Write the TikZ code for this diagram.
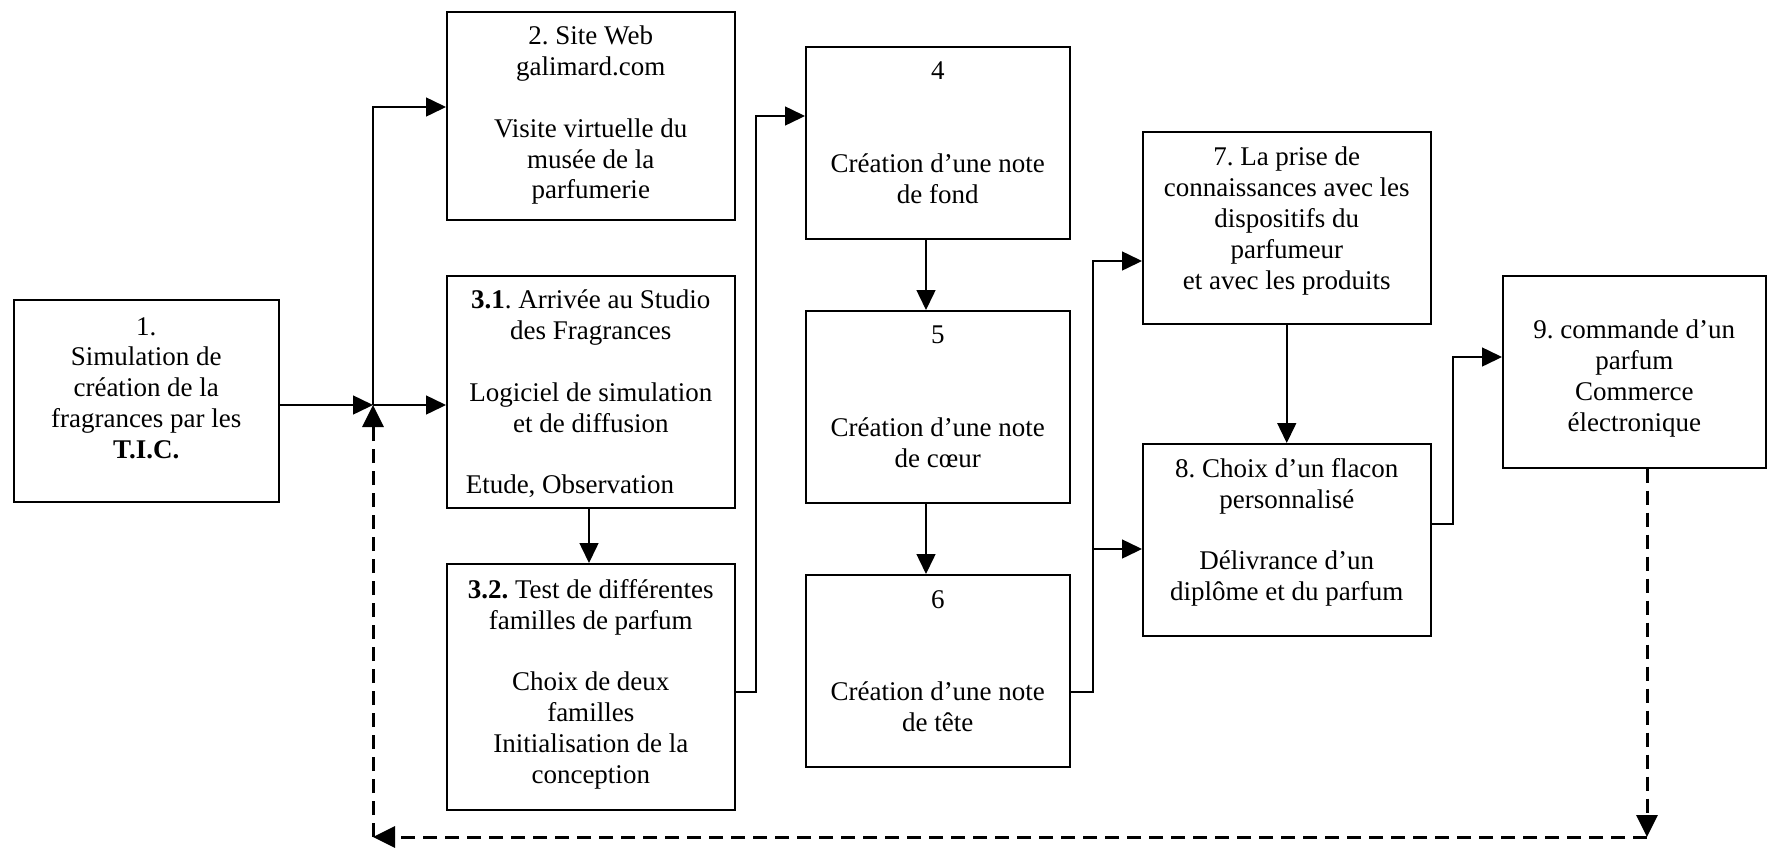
\documentclass[tikz,border=0pt]{standalone}
\usepackage{fontspec}
\setmainfont{Liberation Serif}
\usetikzlibrary{arrows.meta}
\frenchspacing
\begin{document}
\begin{tikzpicture}[x=1pt,y=-1pt,
  box/.style={draw, line width=1.5pt, inner sep=0pt, anchor=north west},
  txt/.style={anchor=north, inner sep=0pt, align=center, font=\fontsize{27}{30.8}\selectfont},
  conn/.style={line width=1.5pt, -{Triangle[length=20pt,width=19pt]}},
  back/.style={line width=3pt, dash pattern=on 14pt off 8pt, -{Triangle[length=22pt,width=21pt]}}]
\useasboundingbox (0,0) rectangle (1767,847);

% boxes
\node[box, minimum width=265pt, minimum height=202pt] (b1) at (13,299) {};
\node[box, minimum width=288pt, minimum height=208pt] (b2) at (446,11) {};
\node[box, minimum width=288pt, minimum height=232pt] (b31) at (446,275) {};
\node[box, minimum width=288pt, minimum height=246pt] (b32) at (446,563) {};
\node[box, minimum width=264pt, minimum height=192pt] (b4) at (805,46) {};
\node[box, minimum width=264pt, minimum height=192pt] (b5) at (805,310) {};
\node[box, minimum width=264pt, minimum height=192pt] (b6) at (805,574) {};
\node[box, minimum width=288pt, minimum height=192pt] (b7) at (1142,131) {};
\node[box, minimum width=288pt, minimum height=192pt] (b8) at (1142,443) {};
\node[box, minimum width=263pt, minimum height=192pt] (b9) at (1502,275) {};

% texts
\node[txt] (t1) at ([yshift=-18pt]b1.north) {1.\\Simulation de\\création de la\\fragrances par les\\\textbf{T.I.C.}};
\node[txt] (t2) at ([yshift=-15pt]b2.north) {2. Site Web\\galimard.com\\[30.8pt]Visite virtuelle du\\musée de la\\parfumerie};
\node[txt] (t31) at ([yshift=-15pt]b31.north) {\textbf{3.1}. Arrivée au Studio\\des Fragrances\\[30.8pt]Logiciel de simulation\\et de diffusion\\[30.8pt]\hbox to 250pt{Etude, Observation\hfil}};
\node[txt] (t32) at ([yshift=-16pt]b32.north) {\textbf{3.2.} Test de différentes\\familles de parfum\\[30.8pt]Choix de deux\\familles\\Initialisation de la\\conception};
\node[txt] (t4) at ([yshift=-16pt]b4.north) {4\\[61.6pt]Création d’une note\\de fond};
\node[txt] (t5) at ([yshift=-16pt]b5.north) {5\\[61.6pt]Création d’une note\\de cœur};
\node[txt] (t6) at ([yshift=-16pt]b6.north) {6\\[61.6pt]Création d’une note\\de tête};
\node[txt] (t7) at ([yshift=-16pt]b7.north) {7. La prise de\\connaissances avec les\\dispositifs du\\parfumeur\\et avec les produits};
\node[txt] (t8) at ([yshift=-15pt]b8.north) {8. Choix d’un flacon\\personnalisé\\[30.8pt]Délivrance d’un\\diplôme et du parfum};
\node[txt] (t9) at ([yshift=-45pt]b9.north) {9. commande d’un\\parfum\\Commerce\\électronique};

% connectors
\coordinate (j) at (373,405);
\coordinate (j2) at (373,107);
\draw[conn] (b1.east |- j) -- (j);
\draw[conn] (j) -- (j -| b31.west);
\draw[conn] (j) -- (j2) -- (j2 -| b2.west);

\coordinate (a31) at (589,0);
\draw[conn] (b31.south -| a31) -- (b32.north -| a31);

\coordinate (k1) at (756,692);
\coordinate (k2) at (756,116);
\draw[conn] (b32.east |- k1) -- (k1) -- (k2) -- (k2 -| b4.west);

\coordinate (v1) at (926,0);
\draw[conn] (b4.south -| v1) -- (b5.north -| v1);
\draw[conn] (b5.south -| v1) -- (b6.north -| v1);

\coordinate (m1) at (1093,692);
\coordinate (m2) at (1093,261);
\coordinate (m3) at (1093,549);
\draw[conn] (b6.east |- m1) -- (m1) -- (m2) -- (m2 -| b7.west);
\draw[conn] (m3) -- (m3 -| b8.west);

\draw[conn] (b7.south) -- (b8.north);

\coordinate (n1) at (1453,524);
\coordinate (n2) at (1453,357);
\draw[conn] (b8.east |- n1) -- (n1) -- (n2) -- (n2 -| b9.west);

% feedback loop
\coordinate (c1) at (1647,837);
\coordinate (c2) at (373,837);
\draw[back] (b9.south -| c1) -- (c1);
\draw[back] (c1) -- (c2);
\draw[back] (c2) -- (j);
\end{tikzpicture}
\end{document}
